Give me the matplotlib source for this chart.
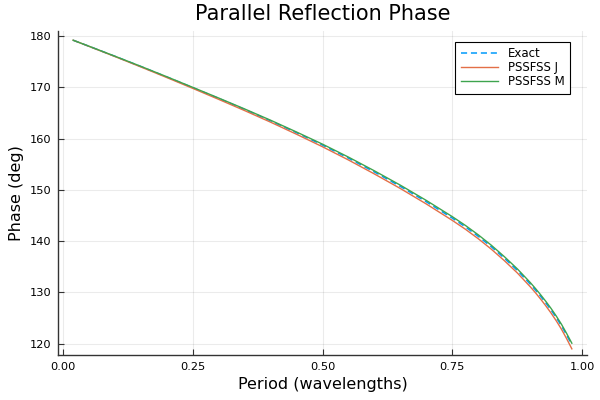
import matplotlib
matplotlib.use("Agg")
import matplotlib.pyplot as plt

# period in wavelengths
period = [0.02, 0.05, 0.10, 0.15, 0.20, 0.25, 0.30, 0.35, 0.40, 0.45, 0.50,
          0.55, 0.60, 0.65, 0.70, 0.75, 0.775, 0.80, 0.825, 0.85, 0.875, 0.90,
          0.91, 0.92, 0.93, 0.94, 0.95, 0.96, 0.97, 0.98]

# reflection phase (deg)
exact = [179.20, 178.04, 176.08, 174.08, 172.04, 169.96, 167.85, 165.70, 163.48, 161.16, 158.75,
         156.20, 153.50, 150.68, 147.68, 144.50, 142.80, 140.94, 138.92, 136.70, 134.31, 131.63,
         130.47, 129.24, 127.95, 126.58, 125.10, 123.50, 121.70, 119.80]
pssfss_j = [179.20, 178.02, 176.03, 174.00, 171.93, 169.82, 167.67, 165.48, 163.22, 160.86, 158.42,
            155.84, 153.11, 150.27, 147.25, 144.05, 142.34, 140.47, 138.44, 136.21, 133.81, 131.11,
            129.94, 128.69, 127.38, 125.98, 124.47, 122.83, 120.98, 119.00]
pssfss_m = [179.20, 178.05, 176.10, 174.12, 172.09, 170.02, 167.93, 165.80, 163.60, 161.30, 158.93,
            156.40, 153.72, 150.92, 147.94, 144.78, 143.08, 141.23, 139.21, 136.99, 134.61, 131.93,
            130.77, 129.54, 128.25, 126.88, 125.40, 123.80, 122.00, 120.10]

fig = plt.figure(figsize=(6, 4), dpi=100)
ax = fig.add_axes([0.097, 0.1125, 0.881, 0.81])

ax.plot(period, exact, color="#009AFA", linestyle=(0, (4, 2.5)), linewidth=1.1, label="Exact")
ax.plot(period, pssfss_j, color="#E36F47", linewidth=1.0, label="PSSFSS J")
ax.plot(period, pssfss_m, color="#3EA44E", linewidth=1.0, label="PSSFSS M")

ax.set_xlim(-0.0088, 1.0088)
ax.set_ylim(117.8, 181.0)
ax.set_xticks([0.0, 0.25, 0.5, 0.75, 1.0])
ax.set_xticklabels(["0.00", "0.25", "0.50", "0.75", "1.00"])
ax.set_yticks([120, 130, 140, 150, 160, 170, 180])

ax.grid(True, color="black", alpha=0.08, linewidth=0.8)
ax.spines["top"].set_visible(False)
ax.spines["right"].set_visible(False)
for s in ("left", "bottom"):
    ax.spines[s].set_color("#333333")
    ax.spines[s].set_linewidth(1.0)
ax.tick_params(direction="in", length=4, labelsize=8.2, color="#333333", pad=5)

ax.set_title("Parallel Reflection Phase", fontsize=15, pad=8)
ax.set_xlabel("Period (wavelengths)", fontsize=11.5)
ax.set_ylabel("Phase (deg)", fontsize=11.5)

leg = ax.legend(loc="upper right", bbox_to_anchor=(0.968, 0.967), borderaxespad=0,
                fontsize=8.5, fancybox=False, framealpha=1, edgecolor="black",
                handlelength=3.2, labelspacing=0.1, borderpad=0.45)
leg.get_frame().set_linewidth(0.8)

fig.savefig("out.png", dpi=100)
